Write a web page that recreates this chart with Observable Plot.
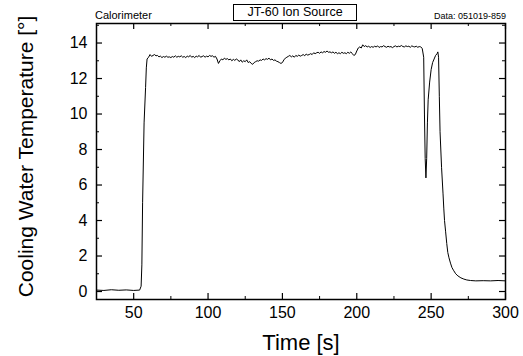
<!DOCTYPE html>
<html>
<head>
<meta charset="utf-8">
<script src="https://cdn.jsdelivr.net/npm/d3@7"></script>
<script src="https://cdn.jsdelivr.net/npm/@observablehq/plot@0.6"></script>
<style>
  body { margin: 0; background: #fff; }
  #wrap { position: relative; width: 523px; height: 356px; font-family: "Liberation Sans", Arial, sans-serif; }
  .hdr { position: absolute; color: #000; white-space: nowrap; }
  #left { left: 95px; top: 9px; font-size: 11px; }
  #box { left: 233px; top: 4px; width: 122px; height: 15px; border: 1px solid #000; font-size: 12.5px; text-align: center; line-height: 15px; background: #fff; }
  #right { right: 17px; top: 11px; font-size: 9px; }
</style>
</head>
<body>
<div id="wrap">
  <div id="chart"></div>
  <div class="hdr" id="left">Calorimeter</div>
  <div class="hdr" id="box">JT-60 Ion Source</div>
  <div class="hdr" id="right">Data: 051019-859</div>
</div>
<script>
const times = [
  25,30,35,40,45,50,54,55,55.5,56,57,58,58.5,59,60,
  61,62,63,64,65,66,67,68,69,70,71,72,73,74,75,76,77,78,79,80,
  81,82,83,84,85,86,87,88,89,90,91,92,93,94,95,96,97,98,99,100,
  101,102,103,104,105,106,107,108,109,110,111,112,113,114,115,116,117,118,119,120,
  121,122,123,124,125,126,127,128,129,130,131,132,133,134,135,136,137,138,139,140,
  141,142,143,144,145,146,147,148,149,150,151,152,153,154,155,156,157,158,159,160,
  161,162,163,164,165,166,167,168,169,170,171,172,173,174,175,176,177,178,179,180,
  181,182,183,184,185,186,187,188,189,190,191,192,193,194,195,196,197,198,199,200,
  201,202,203,204,205,206,207,208,209,
  210,211,212,213,214,215,216,217,218,219,220,221,222,223,224,225,226,227,228,229,
  230,231,232,233,234,235,236,237,238,239,240,241,242,243,
  244,245,245.5,246,246.5,247,247.5,248,249,250,251,252,253,254,254.5,
  255,255.5,256,257,258,258.5,259,259.7,260.5,261.2,262,263,264,265,266.5,268,270,272,274,276.5,
  280,285,290,295,300
];
const temps = [
  0.08,0.06,0.1,0.07,0.09,0.06,0.08,0.3,1.5,5,9.5,11.5,12.6,13.1,13.2,
  13.35,13.25,13.3,13.35,13.28,13.3,13.22,13.26,13.18,13.24,13.2,13.26,13.2,13.22,13.18,13.24,13.2,13.28,13.2,13.25,
  13.22,13.28,13.2,13.24,13.18,13.26,13.22,13.3,13.2,13.25,13.18,13.26,13.22,13.3,13.2,13.24,13.28,13.2,13.26,13.22,
  13.3,13.25,13.28,13.2,13.25,13.1,12.85,13.0,13.1,13.05,13.15,13.08,13.12,13.05,13.1,13.0,13.08,13.02,13.1,13.05,
  12.95,13.05,12.92,13.0,12.95,13.05,12.9,12.95,12.85,12.8,12.9,12.95,13.0,12.98,13.05,13.02,13.1,13.05,13.12,13.08,
  13.15,13.05,13.1,13.02,13.05,12.98,12.95,12.9,12.85,12.9,13.05,13.15,13.2,13.25,13.3,13.22,13.28,13.2,13.3,13.25,
  13.32,13.26,13.3,13.35,13.28,13.38,13.32,13.35,13.4,13.35,13.45,13.4,13.45,13.48,13.42,13.5,13.45,13.52,13.48,13.55,
  13.48,13.5,13.45,13.5,13.42,13.48,13.4,13.45,13.4,13.48,13.42,13.45,13.4,13.48,13.42,13.5,13.4,13.3,13.35,13.55,
  13.72,13.78,13.72,13.9,13.8,13.85,13.78,13.82,13.75,
  13.8,13.76,13.82,13.78,13.84,13.75,13.8,13.78,13.85,13.8,13.76,13.82,13.78,13.8,13.74,13.8,13.84,13.78,13.82,13.8,
  13.86,13.8,13.78,13.84,13.8,13.82,13.76,13.84,13.8,13.78,13.82,13.76,13.8,13.78,
  13.7,13.2,10,7.5,6.4,7.5,9.5,10.8,11.8,12.5,12.9,13.1,13.3,13.4,13.5,
  13.2,11,9,7,5.5,4.7,4,3.4,2.7,2.2,1.9,1.6,1.35,1.2,1.0,0.88,0.77,0.7,0.65,0.62,
  0.6,0.61,0.6,0.62,0.6
];
const xMajor = [50,100,150,200,250,300];
const xMinor = [25,75,125,175,225,275];
const yMajor = [0,2,4,6,8,10,12,14];
const yMinor = [1,3,5,7,9,11,13,15];

const data = times.map((t, i) => ({t, v: temps[i]}));

const W = 523, H = 356, mL = 96, mR = 18, mT = 23, mB = 57;
const innerW = W - mL - mR, innerH = H - mT - mB;

const chart = Plot.plot({
  width: W, height: H,
  marginLeft: mL, marginRight: mR, marginTop: mT, marginBottom: mB,
  style: {fontFamily: "'Liberation Sans', Arial, sans-serif", background: "#fff", color: "#000"},
  x: {domain: [25, 300]},
  y: {domain: [-0.45, 15.1]},
  marks: [
    Plot.line(data, {x: "t", y: "v", stroke: "#000", strokeWidth: 1}),
    Plot.ruleX(xMajor, {x: d => d, insetTop: innerH - 6, stroke: "#000", strokeWidth: 1.2}),
    Plot.ruleX(xMajor, {x: d => d, insetBottom: innerH - 6, stroke: "#000", strokeWidth: 1.2}),
    Plot.ruleX(xMinor, {x: d => d, insetTop: innerH - 3, stroke: "#000", strokeWidth: 1}),
    Plot.ruleX(xMinor, {x: d => d, insetBottom: innerH - 3, stroke: "#000", strokeWidth: 1}),
    Plot.ruleY(yMajor, {y: d => d, insetRight: innerW - 6, stroke: "#000", strokeWidth: 1.2}),
    Plot.ruleY(yMajor, {y: d => d, insetLeft: innerW - 6, stroke: "#000", strokeWidth: 1.2}),
    Plot.ruleY(yMinor, {y: d => d, insetRight: innerW - 3, stroke: "#000", strokeWidth: 1}),
    Plot.ruleY(yMinor, {y: d => d, insetLeft: innerW - 3, stroke: "#000", strokeWidth: 1}),
    Plot.axisX(xMajor, {tickSize: 0, tickPadding: 7, fontSize: 16, label: "Time [s]", labelAnchor: "center", labelOffset: 50, labelArrow: "none"}),
    Plot.axisY(yMajor, {tickSize: 0, tickPadding: 9, fontSize: 16, label: null}),
    Plot.text(["Cooling Water Temperature [°]"], {text: d => d, frameAnchor: "left", textAnchor: "middle", dx: -70, dy: -5, rotate: -90, fontSize: 21}),
    Plot.frame({stroke: "#000", strokeWidth: 1.5})
  ]
});
document.getElementById("chart").appendChild(chart);
d3.select(chart).selectAll("[aria-label='x-axis label'] text, g[aria-label='x-axis label']").attr("font-size", 22);
</script>
</body>
</html>
